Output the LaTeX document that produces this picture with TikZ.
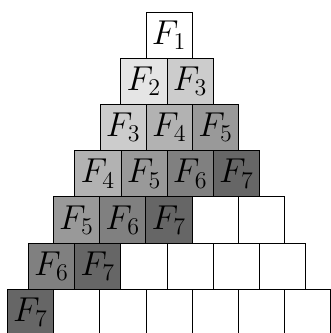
\documentclass[tikz,border=0pt]{standalone}
\usetikzlibrary{positioning}
\tikzset{
  cell/.style={rectangle,draw=black,minimum size=23.1pt,inner sep=0pt,outer sep=0pt,font=\LARGE},
  sh1/.style={cell,fill=white},
  sh2/.style={cell,fill=black!10},
  sh3/.style={cell,fill=black!20},
  sh4/.style={cell,fill=black!30},
  sh5/.style={cell,fill=black!40},
  sh6/.style={cell,fill=black!50},
  sh7/.style={cell,fill=black!60},
  leer/.style={cell,fill=white}
}
\begin{document}
\begin{tikzpicture}[x=0.5pt,y=-0.5pt,node distance=0pt]
\useasboundingbox (0,0) rectangle (331,333);
% row 1
\node[sh1] (r1a) at (169.1,35.1) {$F_1$};
% row 2
\node[sh2,below=of r1a,xshift=-12.6pt] (r2a) {$F_2$};
\node[sh3,right=of r2a] (r2b) {$F_3$};
% row 3
\node[sh3,below=of r2a,xshift=-10.35pt] (r3a) {$F_3$};
\node[sh4,right=of r3a] (r3b) {$F_4$};
\node[sh5,right=of r3b] (r3c) {$F_5$};
% row 4
\node[sh4,below=of r3a,xshift=-12.65pt] (r4a) {$F_4$};
\node[sh5,right=of r4a] (r4b) {$F_5$};
\node[sh6,right=of r4b] (r4c) {$F_6$};
\node[sh7,right=of r4c] (r4d) {$F_7$};
% row 5
\node[sh5,below=of r4a,xshift=-10.7pt] (r5a) {$F_5$};
\node[sh6,right=of r5a] (r5b) {$F_6$};
\node[sh7,right=of r5b] (r5c) {$F_7$};
\node[leer,right=of r5c] (r5d) {};
\node[leer,right=of r5d] (r5e) {};
% row 6
\node[sh6,below=of r5a,xshift=-12.5pt] (r6a) {$F_6$};
\node[sh7,right=of r6a] (r6b) {$F_7$};
\node[leer,right=of r6b] (r6c) {};
\node[leer,right=of r6c] (r6d) {};
\node[leer,right=of r6d] (r6e) {};
\node[leer,right=of r6e] (r6f) {};
% row 7
\node[sh7,below=of r6a,xshift=-10.5pt] (r7a) {$F_7$};
\node[leer,right=of r7a] (r7b) {};
\node[leer,right=of r7b] (r7c) {};
\node[leer,right=of r7c] (r7d) {};
\node[leer,right=of r7d] (r7e) {};
\node[leer,right=of r7e] (r7f) {};
\node[leer,right=of r7f] (r7g) {};
\end{tikzpicture}
\end{document}
